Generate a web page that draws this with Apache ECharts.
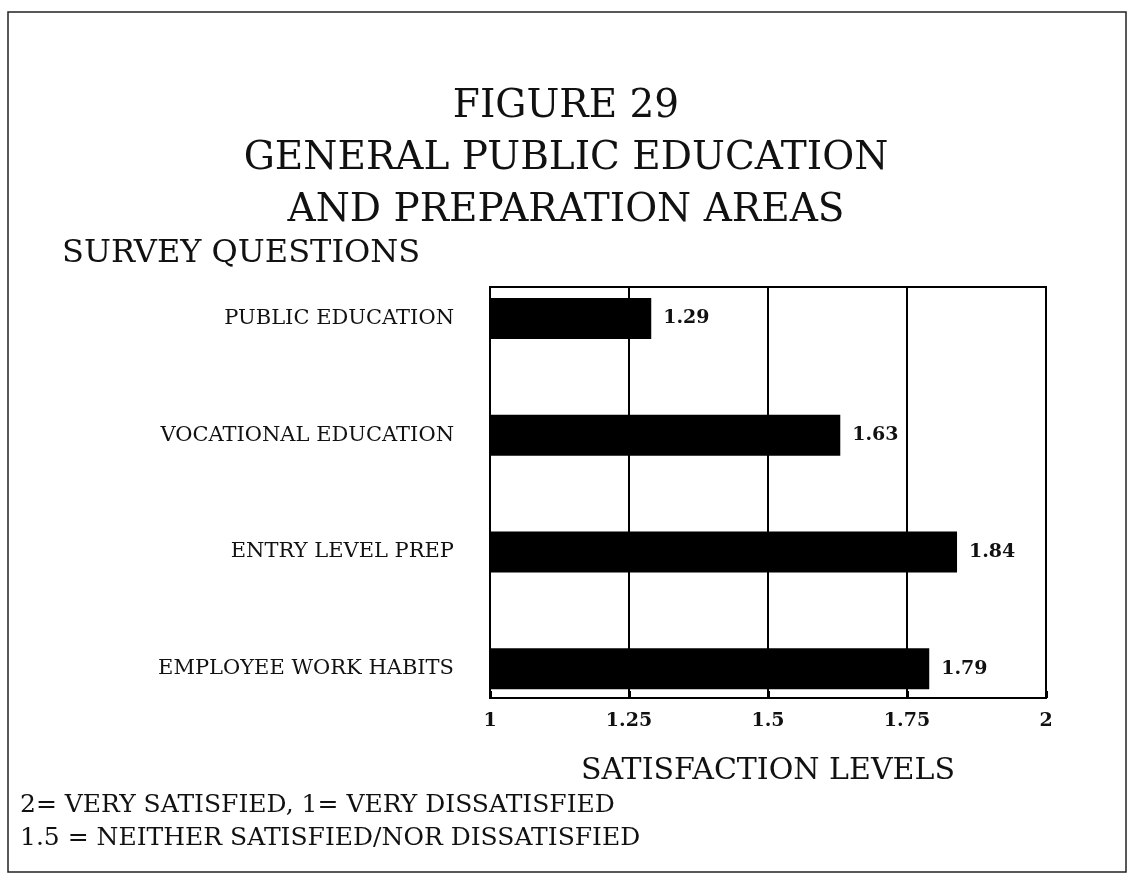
<!DOCTYPE html>
<html>
<head>
<meta charset="utf-8">
<title>Figure 29</title>
<script src="https://cdn.jsdelivr.net/npm/echarts@6/dist/echarts.min.js"></script>
<style>
  html, body { margin: 0; padding: 0; background: #fff; }
  #chart { width: 1132px; height: 890px; }
</style>
</head>
<body>
<div id="chart"></div>
<script>
// survey data
const questions = ['PUBLIC EDUCATION', 'VOCATIONAL EDUCATION', 'ENTRY LEVEL PREP', 'EMPLOYEE WORK HABITS']
const satisfaction = [1.29, 1.63, 1.84, 1.79]
const scaleMin = 1
const scaleMax = 2
const scaleStep = 0.25

const serif = 'DejaVu Serif'
const chart = echarts.init(document.getElementById('chart'))

chart.setOption({
  backgroundColor: '#fff',
  animation: false,
  title: {
    text: 'FIGURE 29\nGENERAL PUBLIC EDUCATION\nAND PREPARATION AREAS',
    left: 'center',
    top: 76,
    textStyle: { fontFamily: serif, fontWeight: 'normal', fontSize: 39, lineHeight: 52, color: '#111' }
  },
  grid: [
    // bars
    { left: 490, width: 556, top: 260, height: 467 },
    // frame + scale
    { left: 490, width: 556, top: 287, height: 411, show: true, borderColor: '#000', borderWidth: 2, backgroundColor: 'transparent' }
  ],
  xAxis: [
    { gridIndex: 0, type: 'value', min: scaleMin, max: scaleMax, show: false },
    {
      gridIndex: 1, type: 'value', min: scaleMin, max: scaleMax, interval: scaleStep,
      axisLine: { show: true, lineStyle: { color: '#000', width: 2 } },
      axisTick: { show: true, inside: true, length: 7, lineStyle: { color: '#000', width: 3 } },
      splitLine: { show: true, lineStyle: { color: '#000', width: 2 } },
      axisLabel: { color: '#111', fontFamily: serif, fontWeight: 'bold', fontSize: 19, margin: 14 },
      name: 'SATISFACTION LEVELS',
      nameLocation: 'middle',
      nameGap: 58,
      nameTextStyle: { fontFamily: serif, fontSize: 30, color: '#111' }
    }
  ],
  yAxis: [
    {
      gridIndex: 0, type: 'category', data: questions, inverse: true,
      axisLine: { show: false }, axisTick: { show: false }, splitLine: { show: false },
      axisLabel: { color: '#111', fontFamily: serif, fontSize: 21, margin: 36 }
    },
    { gridIndex: 1, type: 'value', show: false }
  ],
  series: [
    {
      type: 'bar',
      xAxisIndex: 0,
      yAxisIndex: 0,
      data: satisfaction,
      barWidth: 41,
      clip: true,
      itemStyle: { color: '#000' },
      label: {
        show: true,
        position: 'right',
        distance: 12,
        color: '#111',
        fontFamily: serif,
        fontWeight: 'bold',
        fontSize: 19,
        formatter: p => p.value.toFixed(2)
      }
    }
  ],
  graphic: [
    {
      type: 'rect',
      shape: { x: 8, y: 12, width: 1118, height: 860 },
      style: { fill: 'none', stroke: '#222', lineWidth: 1.5 },
      silent: true
    },
    {
      type: 'text', left: 62, top: 238,
      style: { text: 'SURVEY QUESTIONS', fontFamily: serif, fontSize: 32, fill: '#111' }
    },
    {
      type: 'text', left: 20, top: 793,
      style: { text: '2= VERY SATISFIED, 1= VERY DISSATISFIED', fontFamily: serif, fontSize: 25, fill: '#111' }
    },
    {
      type: 'text', left: 20, top: 826,
      style: { text: '1.5 = NEITHER SATISFIED/NOR DISSATISFIED', fontFamily: serif, fontSize: 25, fill: '#111' }
    }
  ]
})
</script>
</body>
</html>
